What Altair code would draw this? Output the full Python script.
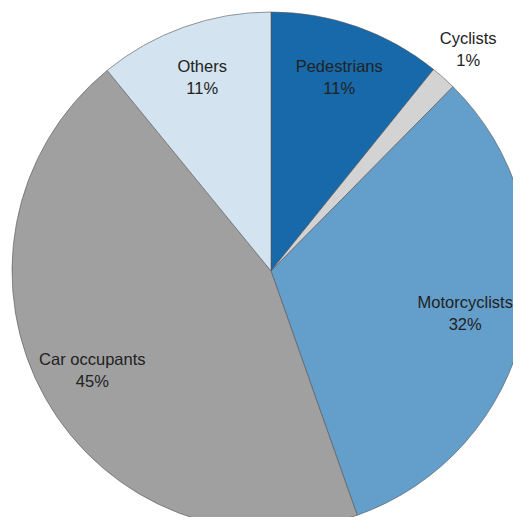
import altair as alt
import pandas as pd

categories = ["Pedestrians", "Cyclists", "Motorcyclists", "Car occupants", "Others"]
shares = [10.8, 1.6, 32.2, 44.5, 10.9]
pct_labels = ["11%", "1%", "32%", "45%", "11%"]
colors = ["#1769aa", "#d3d3d3", "#649ecb", "#a0a0a0", "#d3e3ef"]

df = pd.DataFrame({
    "category": categories,
    "share": shares,
    "label": [f"{c}\n{p}" for c, p in zip(categories, pct_labels)],
    "order": list(range(len(categories))),
})

CX, CY, R = 263, 263, 259

base = alt.Chart(df).encode(
    theta=alt.Theta("share:Q", stack=True),
    order=alt.Order("order:Q"),
)

pie = base.mark_arc(x=CX, y=CY, radius=R, stroke="#555555", strokeWidth=0.6).encode(
    color=alt.Color("category:N", scale=alt.Scale(domain=categories, range=colors), legend=None),
)

text_style = dict(x=CX, y=CY, font="Liberation Sans", fontSize=16.5, color="#222222",
                  lineBreak="\n", align="center", baseline="middle", lineHeight=22, dy=-11)


def label_layer(radius, names):
    return base.mark_text(radius=radius, **text_style).encode(
        text="label:N",
        opacity=alt.condition(
            alt.FieldOneOfPredicate(field="category", oneOf=names), alt.value(1), alt.value(0)
        ),
    )


inner = label_layer(205, ["Pedestrians", "Car occupants", "Others"])
moto = label_layer(199, ["Motorcyclists"])
outer = label_layer(296, ["Cyclists"])

chart = alt.layer(pie, inner, moto, outer).properties(
    width=505, height=509, padding=0, autosize=alt.AutoSizeParams(type="none"),
).configure_view(stroke=None)

chart.save("out.html", embed_options={"renderer": "svg", "actions": False})
